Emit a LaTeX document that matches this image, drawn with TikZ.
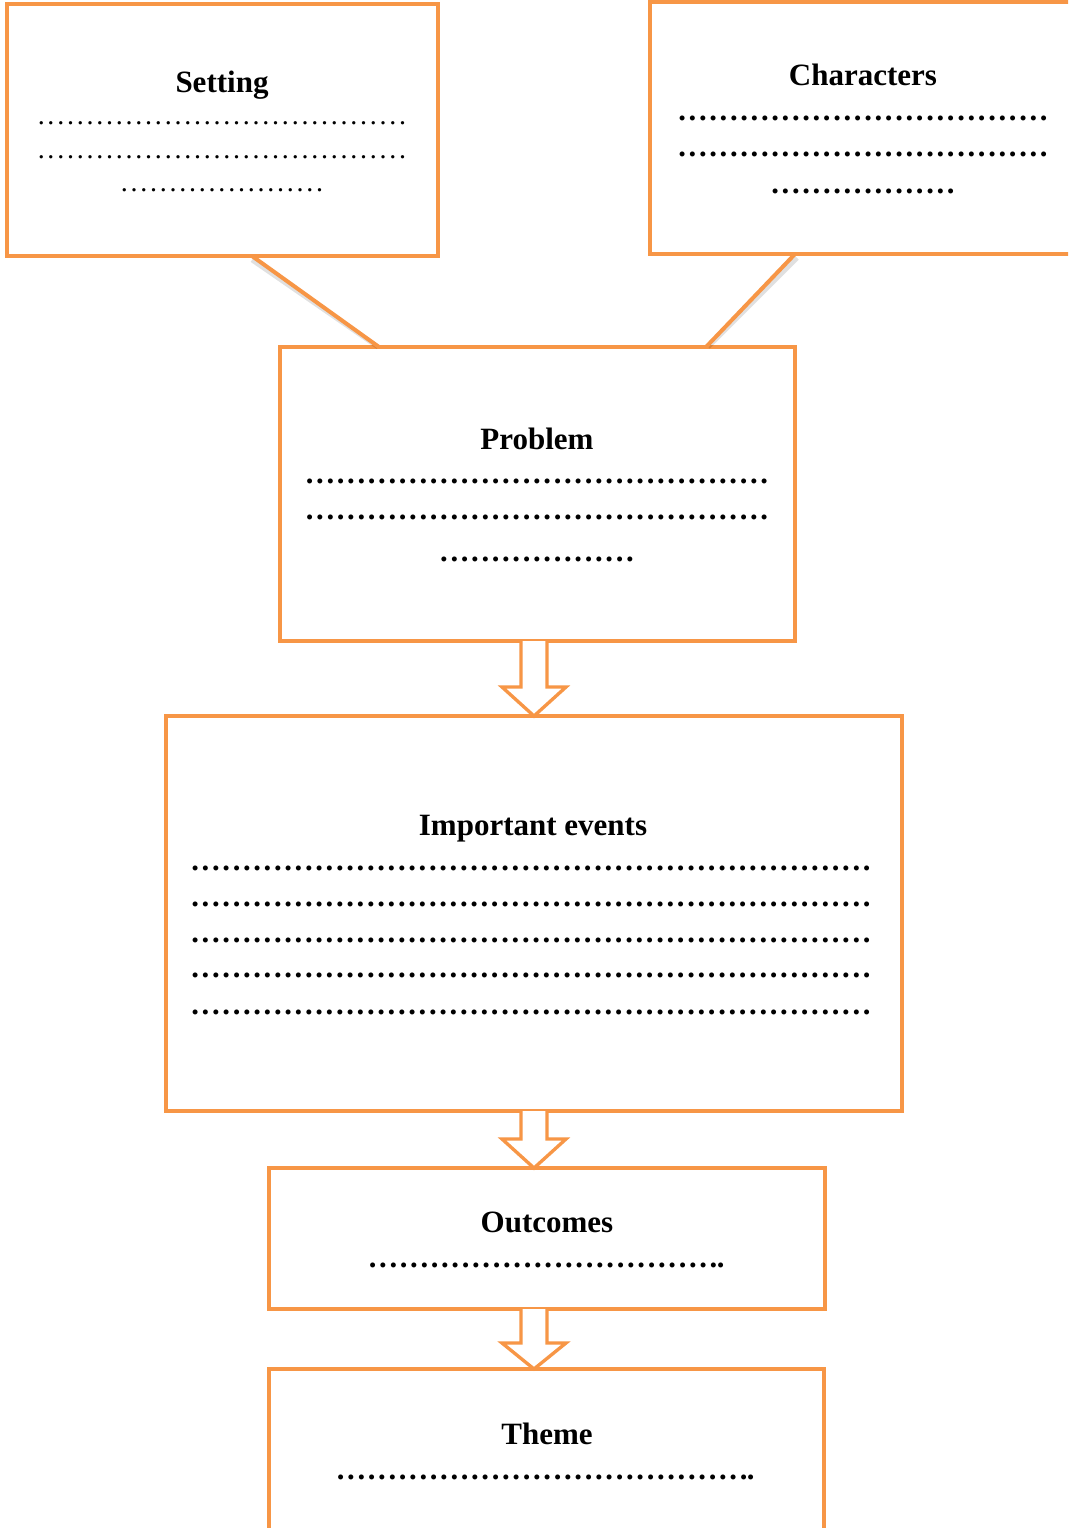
\documentclass[tikz,border=0pt]{standalone}
\usepackage{fontspec}
\setmainfont{Liberation Serif}
\usetikzlibrary{calc}
\newdimen\pxu \pxu=0.75pt
\definecolor{boxorange}{RGB}{247,150,70}
\tikzset{
  panel/.style={draw=boxorange, line width=3pt, fill=white, rectangle, inner sep=0pt, outer sep=0pt},
  heading/.style={anchor=base, inner sep=0pt, font=\fontsize{23.25}{28}\selectfont\bfseries},
  dotsreg/.style={anchor=base, inner sep=0pt, font=\fontsize{21}{25}\selectfont},
  dotsbold/.style={anchor=base, inner sep=0pt, font=\fontsize{23}{27}\selectfont\bfseries},
  blockarrow/.style={draw=boxorange, line width=2.5pt, fill=white, line join=miter},
  pointer/.style={draw=boxorange, line width=3pt},
  pointershadow/.style={draw=black, opacity=0.12, line width=3.5pt},
}
\newcommand\dotrow[3]{\foreach \k in {1,...,#1}{\makebox[#2\pxu]{.}}#3}
\newcommand\mkpanel[5]{\node[panel, minimum width={(#4-#2)*0.75}, minimum height={(#5-#3)*0.75}] (#1) at ({(#2+#4)/2},{(#3+#5)/2}) {};}
\newcommand\blockarr[3]{%
  \draw[blockarrow] ($(#1)+(-13,0)$) -- ($(#2)+(-13,-#3)$) -- ($(#2)+(-32,-#3)$) -- (#2)
    -- ($(#2)+(32,-#3)$) -- ($(#2)+(13,-#3)$) -- ($(#1)+(13,0)$);}
\begin{document}
\begin{tikzpicture}[x=0.75pt, y=-0.75pt]
\useasboundingbox (0,0) rectangle (1068,1528);
\clip (0,0) rectangle (1068,1528);
\fill[white] (0,0) rectangle (1068,1528);

% panels
\mkpanel{set}{7}{4}{438}{256}
\mkpanel{char}{650}{2}{1085}{254}
\mkpanel{prob}{280}{347}{795}{641}
\mkpanel{imp}{166}{716}{902}{1111}
\mkpanel{outc}{269}{1168}{825}{1309}
\mkpanel{theme}{269}{1369}{824}{1545}

% pointer lines from the callouts
\coordinate (xa) at (252,0);
\coordinate (xb) at (379,0);
\coordinate (xc) at (795,0);
\coordinate (xd) at (706,0);
\draw[pointershadow] ($(set.south -| xa)+(0,4)$) -- ($(prob.north -| xb)+(-1,0)$);
\draw[pointershadow] ($(char.south -| xc)+(2,4)$) -- ($(prob.north -| xd)+(2,0)$);
\draw[pointer] (set.south -| xa) -- (prob.north -| xb);
\draw[pointer] (char.south -| xc) -- (prob.north -| xd);

% block arrows
\coordinate (ax) at (534,0);
\coordinate (a1s) at (prob.south -| ax);
\coordinate (a1t) at (imp.north -| ax);
\coordinate (a2s) at (imp.south -| ax);
\coordinate (a2t) at (outc.north -| ax);
\coordinate (a3s) at (outc.south -| ax);
\coordinate (a3t) at (theme.north -| ax);
\blockarr{a1s}{a1t}{29}
\blockarr{a2s}{a2t}{29}
\blockarr{a3s}{a3t}{26}

% Setting
\node[heading] (setT) at (222,92) {Setting};
\node[dotsreg] (setD1) at (222,124) {\dotrow{38}{9.77}{}};
\node[dotsreg] (setD2) at (222,158) {\dotrow{38}{9.77}{}};
\node[dotsreg] (setD3) at (222,191) {\dotrow{21}{9.77}{}};

% Characters
\node[heading] (charT) at (863,85) {Characters};
\node[dotsbold] (charD1) at (863,120.5) {\dotrow{36}{10.33}{}};
\node[dotsbold] (charD2) at (863,156.5) {\dotrow{36}{10.33}{}};
\node[dotsbold] (charD3) at (863,193.5) {\dotrow{18}{10.33}{}};

% Problem
\node[heading] (probT) at (537,449) {Problem};
\node[dotsbold] (probD1) at (537,483.5) {\dotrow{45}{10.33}{}};
\node[dotsbold] (probD2) at (537,519.5) {\dotrow{45}{10.33}{}};
\node[dotsbold] (probD3) at (537,561.5) {\dotrow{19}{10.33}{}};

% Important events
\node[heading] (impT) at (533,835) {Important events};
\node[dotsbold] (impD1) at (531,870.5) {\dotrow{66}{10.33}{}};
\node[dotsbold] (impD2) at (531,906.5) {\dotrow{66}{10.33}{}};
\node[dotsbold] (impD3) at (531,942.5) {\dotrow{66}{10.33}{}};
\node[dotsbold] (impD4) at (531,977.5) {\dotrow{66}{10.33}{}};
\node[dotsbold] (impD5) at (531,1014.5) {\dotrow{66}{10.33}{}};

% Outcomes
\node[heading] (outT) at (547,1232) {Outcomes};
\node[dotsbold] (outD) at (545,1267.5) {\dotrow{34}{10.33}{\makebox[3.7\pxu]{.}}};

% Theme
\node[heading] (themeT) at (547,1444) {Theme};
\node[dotsbold] (themeD) at (544,1479.5) {\dotrow{40}{10.33}{\makebox[3.7\pxu]{.}}};
\end{tikzpicture}
\end{document}
